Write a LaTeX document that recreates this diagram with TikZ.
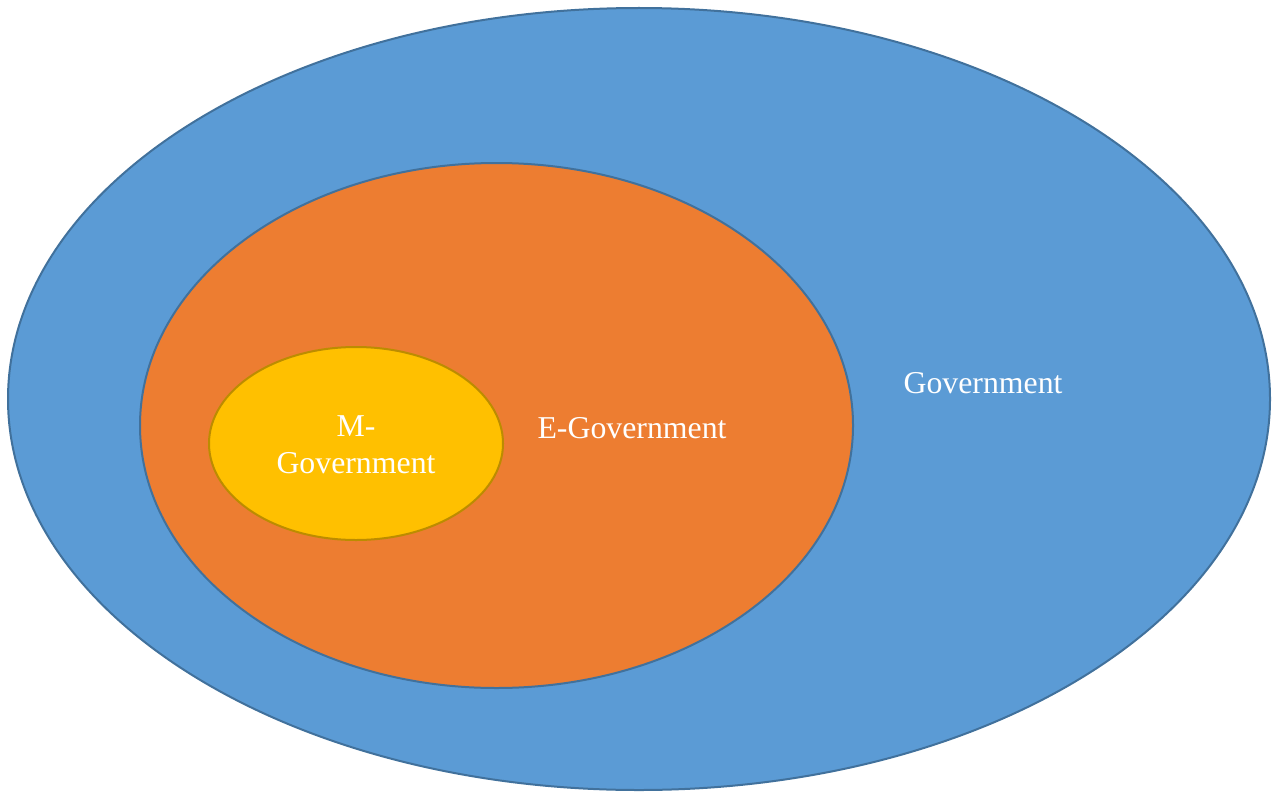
\documentclass[tikz,border=0pt]{standalone}
\usepackage{fontspec}
\setmainfont{Liberation Serif}
\usetikzlibrary{shapes.geometric}

\definecolor{govblue}{HTML}{5B9BD5}
\definecolor{govline}{HTML}{41719C}
\definecolor{egovorange}{HTML}{ED7D31}
\definecolor{mgovyellow}{HTML}{FFC000}
\definecolor{mgovline}{HTML}{BC8C00}

\tikzset{
  blob/.style={ellipse, draw=govline, line width=1pt, inner sep=0pt},
  lbl/.style={text=white, font=\fontsize{15.9}{18.5}\selectfont, align=center}
}

\begin{document}
\begin{tikzpicture}[x=0.5pt,y=-0.5pt]
    \useasboundingbox (0,0) rectangle (1272,792);
    % government
    \node[blob, fill=govblue, minimum width=631pt, minimum height=391pt] (gov) at (639,399) {};
    % e-government
    \node[blob, fill=egovorange, minimum width=356.5pt, minimum height=262.5pt] (egov) at (496.5,425.5) {};
    % m-government
    \node[blob, fill=mgovyellow, draw=mgovline, minimum width=147pt, minimum height=96.5pt] (mgov) at (356,443.5) {};

    \node[lbl] (govtxt) at (983,383) {Government};
    \node[lbl] (egovtxt) at (632,428) {E-Government};
    \node[lbl] (mgovtxt) at (356,445) {M-\\Government};
\end{tikzpicture}
\end{document}
